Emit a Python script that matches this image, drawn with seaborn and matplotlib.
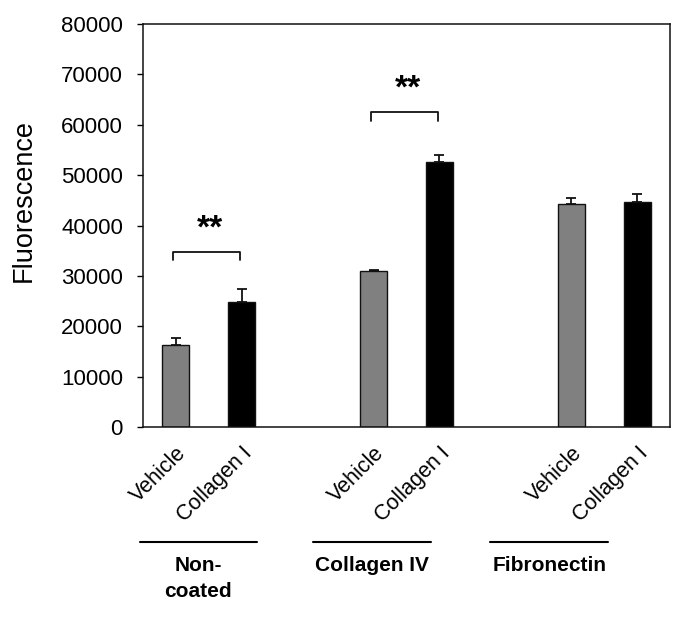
import matplotlib
matplotlib.use("Agg")
import matplotlib.pyplot as plt
import matplotlib.transforms as mtransforms
import seaborn as sns
import pandas as pd

# Data
coatings = ["Non-\ncoated", "Collagen IV", "Fibronectin"]
treatments = ["Vehicle", "Collagen I"]
positions = [0, 1, 3, 4, 6, 7]
means = [16300, 24900, 30900, 52700, 44300, 44600]
errors = [1300, 2500, 250, 1250, 1150, 1700]

# significance brackets: (left bar, right bar, bracket height, label)
brackets = [(0, 1, 34800, "**"), (3, 4, 62500, "**")]
bracket_drop = 1700
star_offset = 2900

# group underline extents in data units (shifted left like the rotated labels)
group_lines = [(-0.55, 1.23), (2.08, 3.87), (4.77, 6.56)]

sns.set_theme(style="white")
plt.rcParams["font.family"] = ["Liberation Sans", "DejaVu Sans"]
plt.rcParams["text.color"] = "black"
plt.rcParams["axes.labelcolor"] = "black"
plt.rcParams["xtick.color"] = "black"
plt.rcParams["ytick.color"] = "black"

df = pd.DataFrame({
    "pos": positions,
    "value": means,
    "treatment": [treatments[i % 2] for i in range(len(means))],
})

fig = plt.figure(figsize=(6.85, 6.18), dpi=100)
ax = fig.add_axes([0.2088, 0.309, 0.7694, 0.652])

sns.barplot(data=df, x="pos", y="value", hue="treatment", native_scale=True,
            palette={"Vehicle": "#808080", "Collagen I": "#000000"},
            dodge=False, width=0.41, edgecolor="#111111", linewidth=1.0,
            legend=False, ax=ax)

ax.errorbar(positions, means, yerr=[[0] * len(errors), errors], fmt="none",
            ecolor="#111111", elinewidth=1.3, capsize=3.8, capthick=1.3)

ax.set_xlim(-0.5, 7.5)
ax.set_ylim(0, 80000)
ax.set_yticks(range(0, 80001, 10000))
ax.tick_params(axis="y", which="major", direction="out", length=4.5, width=1.0,
               labelsize=16, pad=10, left=True)
ax.set_xticks(positions)
ax.set_xticklabels([treatments[i % 2] for i in range(len(positions))],
                   rotation=45, ha="right", rotation_mode="anchor", fontsize=15.5)
ax.tick_params(axis="x", length=0, pad=11)
ax.set_xlabel("")
ax.set_ylabel("Fluorescence", fontsize=19.5)
ax.yaxis.set_label_coords(-0.201, 0.561)

for spine in ax.spines.values():
    spine.set_visible(True)
    spine.set_color("#111111")
    spine.set_linewidth(1.1)

# significance brackets
for x0, x1, h, label in brackets:
    ax.plot([x0 - 0.04, x0 - 0.04, x1 - 0.03, x1 - 0.03],
            [h - bracket_drop, h, h, h - bracket_drop],
            color="#111111", lw=1.3)
    ax.text((x0 + x1) / 2 + 0.02, h + star_offset, label, ha="center", va="baseline",
            fontsize=24, fontweight="bold")

# group underlines and labels below the axis
trans = mtransforms.blended_transform_factory(ax.transData, ax.transAxes)
for (a, b), name in zip(group_lines, coatings):
    ax.plot([a, b], [-0.2846, -0.2846], color="black", lw=1.5,
            transform=trans, clip_on=False)
    ax.text((a + b) / 2, -0.32, name, transform=trans, ha="center", va="top",
            fontsize=15, fontweight="bold", linespacing=1.45)

fig.savefig("out.png", dpi=100)
